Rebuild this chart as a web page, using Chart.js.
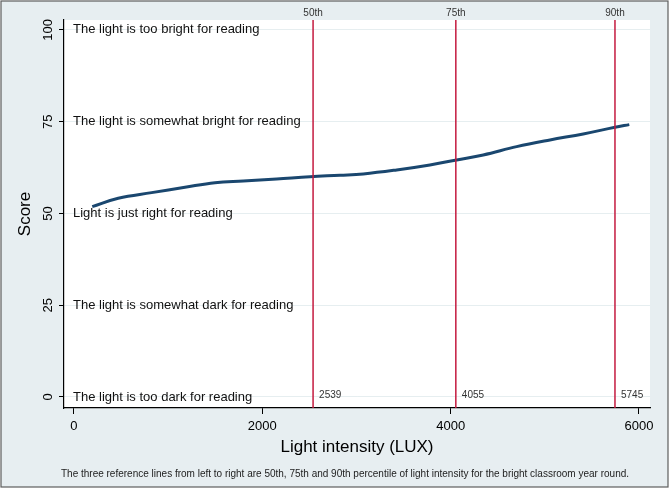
<!DOCTYPE html>
<html>
<head>
<meta charset="utf-8">
<script src="https://cdn.jsdelivr.net/npm/chart.js@4/dist/chart.umd.min.js"></script>
<style>
html,body{margin:0;padding:0;background:#ffffff;}
#wrap{width:670px;height:489px;position:relative;}
canvas{display:block;}
</style>
</head>
<body>
<div id="wrap"><canvas id="c" width="670" height="489"></canvas></div>
<script>
// ---- data ----
const luxValues   = [194, 470, 825, 1179, 1497, 1798, 2152, 2506, 2825, 3072, 3427, 3780, 4064, 4346, 4701, 5055, 5408, 5745, 5897];
const scoreValues = [51.85, 54.14, 55.67, 57.14, 58.39, 58.86, 59.40, 60.03, 60.41, 60.76, 61.85, 63.21, 64.58, 65.94, 68.20, 70.03, 71.66, 73.49, 74.20];

const percentileNames  = ['50th', '75th', '90th'];
const percentileValues = [2539, 4055, 5745];

const yTickValues = [0, 25, 50, 75, 100];
const xTickValues = [0, 2000, 4000, 6000];

const scoreLabelValues = [100, 75, 50, 25, 0];
const scoreLabelTexts  = [
  'The light is too bright for reading',
  'The light is somewhat bright for reading',
  'Light is just right for reading',
  'The light is somewhat dark for reading',
  'The light is too dark for reading'
];

const xTitle = 'Light intensity (LUX)';
const yTitle = 'Score';
const caption = 'The three reference lines from left to right are 50th, 75th and 90th percentile of light intensity for the bright classroom year round.';

const xMin = -106, xMax = 6117;
const yMin = -3, yMax = 102.7;

// ---- styles ----
const FONT = "'Liberation Sans', Arial, sans-serif";
const OUTER_BG = '#e7eef1';
const GRID = '#e6eef0';
const NAVY = '#1a476f';
const RED = '#c41a3f';

const refDatasets = percentileValues.map((v, i) => ({
  label: percentileNames[i],
  data: [{x: v, y: yMin}, {x: v, y: yMax}],
  showLine: true,
  borderColor: RED,
  borderWidth: 1.5,
  pointRadius: 0,
  fill: false
}));

const curveDataset = {
  label: 'Score',
  data: luxValues.map((x, i) => ({x: x, y: scoreValues[i]})),
  showLine: true,
  borderColor: NAVY,
  borderWidth: 3,
  pointRadius: 0,
  tension: 0.4,
  fill: false
};

const decorPlugin = {
  id: 'decor',
  beforeDraw(chart) {
    const ctx = chart.ctx;
    const a = chart.chartArea;
    ctx.save();
    ctx.fillStyle = '#ffffff';
    ctx.fillRect(0, 0, chart.width, chart.height);
    ctx.fillStyle = OUTER_BG;
    ctx.fillRect(1, 1, chart.width - 3, chart.height - 3);
    ctx.strokeStyle = '#5e5e5e';
    ctx.lineWidth = 1.2;
    ctx.strokeRect(1, 1, chart.width - 3, chart.height - 3);
    ctx.fillStyle = '#ffffff';
    ctx.fillRect(a.left, a.top, a.right - a.left, a.bottom - a.top);
    ctx.restore();
  },
  afterDraw(chart) {
    const ctx = chart.ctx;
    const a = chart.chartArea;
    const xs = chart.scales.x, ys = chart.scales.y;
    ctx.save();
    // in-plot score labels
    ctx.fillStyle = '#111111';
    ctx.font = '13px ' + FONT;
    ctx.textAlign = 'left';
    ctx.textBaseline = 'middle';
    scoreLabelValues.forEach((v, i) => {
      ctx.fillText(scoreLabelTexts[i], a.left + 9, ys.getPixelForValue(v));
    });
    // percentile names on top, values at bottom
    ctx.fillStyle = '#333333';
    ctx.font = '10px ' + FONT;
    percentileValues.forEach((v, i) => {
      const px = xs.getPixelForValue(v);
      ctx.textAlign = 'center';
      ctx.fillText(percentileNames[i], px, 13);
      ctx.textAlign = 'left';
      ctx.fillText(String(v), px + 6, a.bottom - 13);
    });
    // caption
    ctx.fillStyle = '#222222';
    ctx.font = '10px ' + FONT;
    ctx.textAlign = 'center';
    ctx.fillText(caption, 345, 474);
    ctx.restore();
  }
};

new Chart(document.getElementById('c'), {
  type: 'scatter',
  data: { datasets: [...refDatasets, curveDataset] },
  options: {
    responsive: false,
    animation: false,
    events: [],
    layout: { padding: { left: 0, right: 20, top: 20, bottom: 0 } },
    plugins: { legend: { display: false }, tooltip: { enabled: false } },
    scales: {
      x: {
        type: 'linear',
        min: xMin, max: xMax,
        afterBuildTicks: s => { s.ticks = xTickValues.map(v => ({value: v})); },
        afterFit: s => { s.height = 81; },
        grid: { drawOnChartArea: false, drawTicks: true, tickLength: 6, tickColor: '#000', tickWidth: 1 },
        border: { display: true, color: '#000', width: 1.2 },
        ticks: { font: { family: FONT, size: 13 }, color: '#000', padding: 5, maxRotation: 0, callback: v => String(v) },
        title: { display: true, text: xTitle, font: { family: FONT, size: 17 }, color: '#000', padding: { top: 0, bottom: 31 } }
      },
      y: {
        type: 'linear',
        min: yMin, max: yMax,
        afterBuildTicks: s => { s.ticks = yTickValues.map(v => ({value: v})); },
        afterFit: s => { s.width = 64; },
        grid: { drawOnChartArea: true, color: GRID, lineWidth: 1, drawTicks: true, tickLength: 5, tickColor: '#000', tickWidth: 1 },
        border: { display: true, color: '#000', width: 1.2 },
        ticks: { font: { family: FONT, size: 13 }, color: '#000', padding: 0, minRotation: 90, maxRotation: 90, crossAlign: 'center', callback: v => String(v) },
        title: { display: true, text: yTitle, font: { family: FONT, size: 17 }, color: '#000', padding: { top: 15, bottom: 0 } }
      }
    }
  },
  plugins: [decorPlugin]
});
</script>
</body>
</html>
